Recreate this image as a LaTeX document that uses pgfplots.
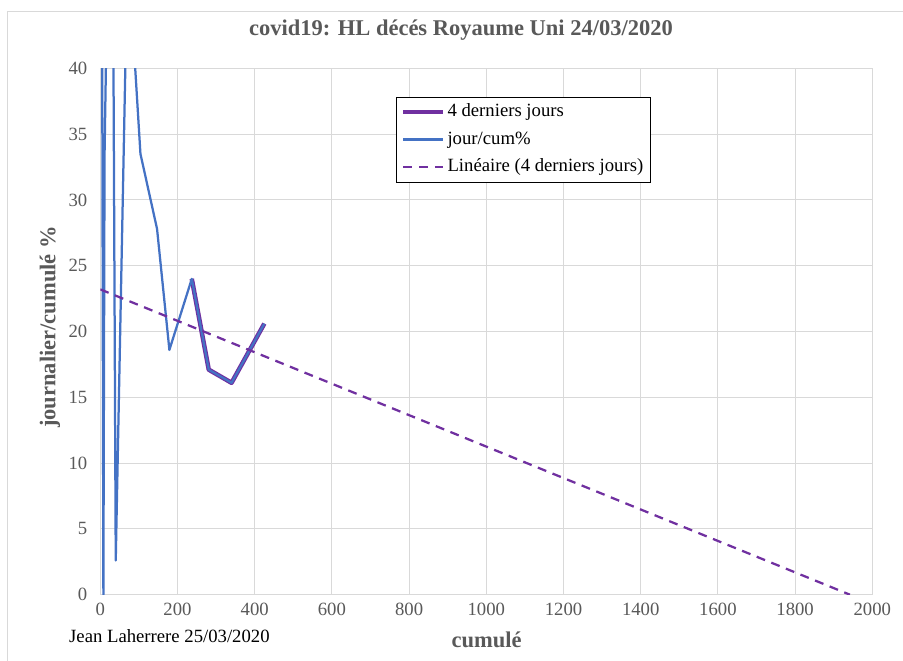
\documentclass[border=0pt]{standalone}
\usepackage{pgfplots}
\pgfplotsset{compat=1.18}
\usepackage{fontspec}
\setmainfont{Liberation Serif}
\definecolor{xlblue}{HTML}{4472C4}
\definecolor{xlpurple}{HTML}{7030A0}
\definecolor{xlgrid}{HTML}{D9D9D9}
\definecolor{xltext}{HTML}{595959}

\begin{document}
\begin{tikzpicture}[x=1bp,y=1bp]
\useasboundingbox (0,0) rectangle (903,661);
\draw[xlgrid, line width=1bp] (7.3,0) -- (7.3,649) -- (903,649);
\node[anchor=base, text=xltext, font=\fontsize{22.5bp}{26bp}\selectfont\bfseries, inner sep=0pt] at (461,625) {covid19: HL décés Royaume Uni 24/03/2020};
\node[anchor=base west, font=\fontsize{18.7bp}{22bp}\selectfont, inner sep=0pt] at (69,18) {Jean Laherrere 25/03/2020};
\begin{axis}[
  at={(100.3bp,66.3bp)}, anchor=south west,
  width=772bp, height=526.4bp, scale only axis,
  xmin=0, xmax=2000, ymin=0, ymax=40,
  xtick={0,200,...,2000}, ytick={0,5,...,40},
  major tick length=0pt,
  grid=major,
  major grid style={draw=xlgrid, line width=1bp},
  axis line style={draw=xlgrid, line width=1bp},
  /pgf/number format/assume math mode=true,
  /pgf/number format/1000 sep={},
  ticklabel style={font=\fontsize{18.7bp}{22bp}\selectfont, text=xltext},
  xticklabel style={yshift=-5bp},
  yticklabel style={xshift=-9.5bp},
  xlabel={cumulé},
  ylabel={journalier/cumulé \%},
  xlabel style={at={(axis description cs:0.5005,-0.086)}, anchor=center, font=\fontsize{22.5bp}{26bp}\selectfont\bfseries, text=xltext},
  ylabel style={at={(axis description cs:-0.0652,0.5086)}, anchor=center, font=\fontsize{22.5bp}{26bp}\selectfont\bfseries, text=xltext},
  legend cell align=left,
  legend style={at={(axis description cs:0.3826,0.946)}, anchor=north west,
    draw=black, line width=0.75bp, fill=white, inner xsep=5bp, inner ysep=4.5bp,
    font=\fontsize{18.7bp}{22bp}\selectfont,
    nodes={inner sep=2bp, text height=13bp, text depth=4bp},
    row sep=6.5bp},
  legend image code/.code={\draw[#1] (0bp,0bp) -- (40bp,0bp);},
]
\addplot[draw=xlpurple, line width=4.5bp, line join=round] coordinates {
  (237,24.0) (281,17.1) (340,16.1) (425,20.6)
};
\addlegendentry{4 derniers jours}
\addplot[draw=xlblue, line width=2.25bp, line join=round] coordinates {
  (3,66.7) (8,0) (11,33.4) (21,52.4) (34,41.2) (40,2.6) (71,49.3) (104,33.5)
  (147,27.8) (179,18.6) (237,24.0) (281,17.1) (340,16.1) (425,20.6)
};
\addlegendentry{jour/cum\%}
\addplot[draw=xlpurple, line width=2.25bp, dash pattern=on 9bp off 6.75bp] coordinates {
  (0,23.2) (1942,0)
};
\addlegendentry{Linéaire (4 derniers jours)}
\end{axis}
\end{tikzpicture}
\end{document}
